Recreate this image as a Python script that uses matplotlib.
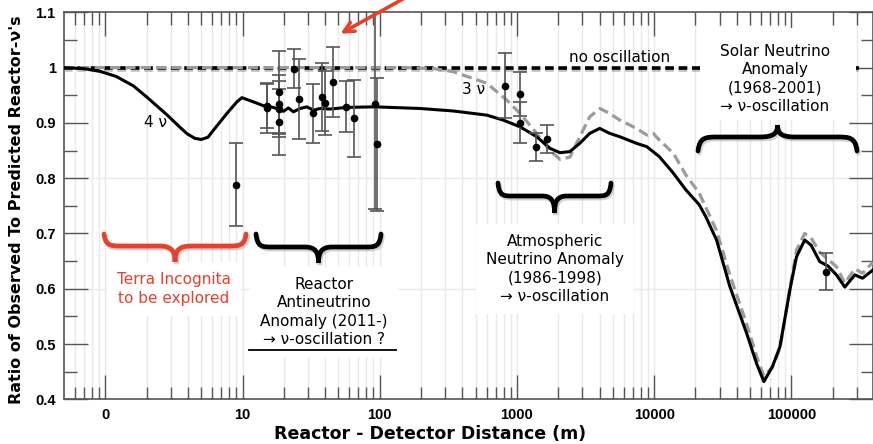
import matplotlib
matplotlib.use('Agg')
import matplotlib.pyplot as plt
from matplotlib.path import Path
from matplotlib.patches import PathPatch, Rectangle
from matplotlib.lines import Line2D
import matplotlib.patheffects as pe
from matplotlib.ticker import FixedLocator, FixedFormatter, NullFormatter, MultipleLocator

# ---------------- data ----------------
curve4_dist = [0.5, 0.7, 0.92, 1.2, 1.6, 2.0, 2.83, 3.5, 3.96, 4.5, 5.0, 5.6, 6.15, 7.69, 9.1, 9.9,
               12.0, 14.2, 16.8, 19.9, 21.6, 23.5, 26.3, 29.4, 32.9, 36.8, 43.5, 57.5, 92.5, 119,
               197, 344, 603, 794, 1050, 1393, 1740, 2060, 2430, 2870, 3390, 4010, 4740, 5610,
               7430, 8830, 10900, 13800, 17000, 21300, 23800, 28500, 35600, 47100, 55700, 63000,
               72700, 82500, 97500, 109000, 125000, 139000, 161000, 185000, 213000, 245000,
               290000, 330000, 393000]
curve4_ratio = [1.000, 0.998, 0.993, 0.984, 0.967, 0.947, 0.914, 0.892, 0.880, 0.872, 0.870, 0.874,
                0.887, 0.917, 0.938, 0.9456, 0.938, 0.931, 0.928, 0.921, 0.927, 0.920, 0.926, 0.929,
                0.923, 0.926, 0.925, 0.928, 0.929, 0.928, 0.926, 0.9215, 0.914, 0.905, 0.893, 0.875,
                0.854, 0.846, 0.848, 0.863, 0.881, 0.890, 0.881, 0.875, 0.863, 0.857, 0.839, 0.809,
                0.779, 0.752, 0.730, 0.688, 0.604, 0.520, 0.465, 0.432, 0.459, 0.495, 0.598, 0.658,
                0.688, 0.679, 0.649, 0.641, 0.625, 0.603, 0.625, 0.619, 0.634]

curve3_dist = [0.5, 150, 250, 344, 603, 841, 1050, 1393, 1740, 2060, 2430, 2720, 3390, 4030, 4740,
               5610, 6300, 7430, 8830, 9840, 10900, 13800, 17000, 21300, 28500, 35600, 47100,
               55700, 63000, 72700, 82500, 97500, 109000, 125000, 139000, 161000, 185000, 213000,
               245000, 290000, 330000, 393000]
curve3_ratio = [1.000, 1.000, 0.998, 0.9926, 0.9716, 0.9414, 0.9174, 0.881, 0.850, 0.834, 0.838,
                0.863, 0.911, 0.926, 0.917, 0.905, 0.899, 0.890, 0.878, 0.881, 0.869, 0.845, 0.806,
                0.773, 0.705, 0.625, 0.537, 0.478, 0.442, 0.458, 0.492, 0.600, 0.670, 0.700, 0.692,
                0.666, 0.653, 0.640, 0.610, 0.636, 0.628, 0.648]

exp_dist = [9.0, 15.0, 15.2, 18.3, 18.3, 18.3, 18.3, 23.9, 25.6, 32.9, 37.9, 40.0, 45.3, 56.9,
            65.0, 92.6, 95.3, 819, 1054, 1054, 1377, 1665, 180000]
exp_ratio = [0.788, 0.927, 0.930, 0.955, 0.934, 0.925, 0.901, 0.998, 0.943, 0.917, 0.947, 0.936,
             0.974, 0.929, 0.908, 0.934, 0.861, 0.967, 0.952, 0.900, 0.856, 0.871, 0.631]
exp_err = [0.075, 0.046, 0.040, 0.075, 0.053, 0.050, 0.060, 0.035, 0.072, 0.053, 0.062, 0.058,
           0.063, 0.046, 0.069, 0.190, 0.121, 0.059, 0.040, 0.037, 0.025, 0.026, 0.033]

no_osc_dist = [0.5, 3.1e5]
no_osc_ratio = [1.0, 1.0]

x_tick_values = [1, 10, 100, 1000, 10000, 100000]
x_tick_labels = ['0', '10', '100', '1000', '10000', '100000']
y_tick_values = [0.4, 0.5, 0.6, 0.7, 0.8, 0.9, 1.0, 1.1]
y_tick_labels = ['0.4', '0.5', '0.6', '0.7', '0.8', '0.9', '1', '1.1']
y_grid_values = [0.6, 0.8, 1.0]

# ---------------- figure ----------------
W, H = 873, 444
fig = plt.figure(figsize=(W / 100, H / 100), dpi=100)
ax = fig.add_axes([64 / W, (H - 399.3) / H, (872.5 - 64) / W, (399.3 - 12.3) / H])
ax.set_xscale('log')
ax.set_xlim(0.5, 3.9e5)
ax.set_ylim(0.4, 1.1)

def fxy(px, py):
    return px / W, 1 - py / H

# grid
minor_x = []
for dec in [0.1, 1, 10, 100, 1000, 10000, 100000]:
    for m in range(2, 10):
        v = m * dec
        if 0.5 < v < 3.9e5:
            minor_x.append(v)
for v in minor_x + x_tick_values:
    ax.axvline(v, color='#e9e9e9', lw=1.0, zorder=0)
for v in y_grid_values:
    ax.axhline(v, color='#e9e9e9', lw=1.0, zorder=0)

# ticks
ax.xaxis.set_major_locator(FixedLocator(x_tick_values))
ax.xaxis.set_major_formatter(FixedFormatter(x_tick_labels))
ax.xaxis.set_minor_locator(FixedLocator(minor_x))
ax.xaxis.set_minor_formatter(NullFormatter())
ax.yaxis.set_major_locator(FixedLocator(y_tick_values))
ax.yaxis.set_major_formatter(FixedFormatter(y_tick_labels))
ax.yaxis.set_minor_locator(MultipleLocator(0.05))
ax.tick_params(which='major', direction='in', length=17.5, width=1.0, color='#555555',
               top=True, right=True, labelsize=10.5, pad=6)
ax.tick_params(which='minor', direction='in', length=9, width=1.0, color='#555555',
               top=True, right=True)
for lab in ax.get_xticklabels():
    lab.set_fontfamily(['Liberation Sans Narrow', 'Liberation Sans', 'DejaVu Sans'])
    lab.set_fontweight('bold')
for lab in ax.get_yticklabels():
    lab.set_fontfamily(['Liberation Sans', 'DejaVu Sans'])
    lab.set_fontweight('bold')
for s in ax.spines.values():
    s.set_color('#555555')
    s.set_linewidth(1.2)

# curves
ax.plot(no_osc_dist, no_osc_ratio, color='black', lw=2.6, dashes=(2.4, 1.3), zorder=3,
        path_effects=[pe.SimpleLineShadow(offset=(0, -1.5), shadow_color='gray', alpha=0.5), pe.Normal()])
ax.plot(curve3_dist, curve3_ratio, color='#9b9b9b', lw=2.3, dashes=(3.2, 1.6), zorder=3)
ax.plot(curve4_dist, curve4_ratio, color='black', lw=2.2, zorder=4)
ax.errorbar(exp_dist, exp_ratio, yerr=exp_err, fmt='o', color='black', ms=4.5,
            ecolor='#555555', elinewidth=1.2, capsize=5, capthick=1.2, zorder=5)

# curve labels
ax.text(2.31, 0.900, '4 ν', fontsize=11, ha='center', va='center', zorder=6)
ax.text(479, 0.9595, '3 ν', fontsize=11, ha='center', va='center', zorder=6)
ax.text(5620, 1.0188, 'no oscillation', fontsize=11, ha='center', va='center', zorder=6)

# white backing for the solar text
ax.add_patch(Rectangle(fxy(700, 120), 156 / W, 92 / H, transform=fig.transFigure,
                       facecolor='white', edgecolor='none', zorder=6.5, clip_on=False))

# annotation texts
txt_kw = dict(ha='center', va='center', multialignment='center', fontsize=11,
              linespacing=1.3, transform=fig.transFigure, clip_on=False, zorder=7)
ax.text(*fxy(775, 79), 'Solar Neutrino\nAnomaly\n(1968-2001)\n→ ν-oscillation', **txt_kw)
ax.text(*fxy(174, 289), 'Terra Incognita\nto be explored', color='#e8402a',
        bbox=dict(facecolor='white', edgecolor='none', pad=7), **txt_kw)
ax.text(*fxy(324, 312), 'Reactor\nAntineutrino\nAnomaly (2011-)\n→ ν-oscillation ?',
        bbox=dict(facecolor='white', edgecolor='none', pad=7), **txt_kw)
ax.text(*fxy(555, 269), 'Atmospheric\nNeutrino Anomaly\n(1986-1998)\n→ ν-oscillation',
        bbox=dict(facecolor='white', edgecolor='none', pad=7), **txt_kw)
ax.add_line(Line2D([249 / W, 396 / W], [1 - 350 / H, 1 - 350 / H], color='black', lw=1.3,
                   transform=fig.transFigure, zorder=8, clip_on=False))

# braces
def brace(x0, x1, ye, yf, yt, color):
    xc = (x0 + x1) / 2
    L = xc - x0
    pts = [(x0, ye), (x0 + 0.02 * L, yf), (x0 + 0.1 * L, yf), (x0 + 0.25 * L, yf),
           (xc - 0.22 * L, yf),
           (xc - 0.04 * L, yf), (xc, yf + 0.35 * (yt - yf)), (xc, yt),
           (xc, yf + 0.35 * (yt - yf)), (xc + 0.04 * L, yf), (xc + 0.22 * L, yf),
           (x1 - 0.25 * L, yf),
           (x1 - 0.1 * L, yf), (x1 - 0.02 * L, yf), (x1, ye)]
    codes = [Path.MOVETO] + [Path.CURVE4] * 3 + [Path.LINETO] + [Path.CURVE4] * 6 + \
            [Path.LINETO] + [Path.CURVE4] * 3
    verts = [fxy(px, py) for px, py in pts]
    patch = PathPatch(Path(verts, codes), facecolor='none', edgecolor=color, lw=3.4,
                      transform=fig.transFigure, zorder=8, clip_on=False, capstyle='round',
                      path_effects=[pe.SimpleLineShadow(offset=(1, -1.5), shadow_color='gray',
                                                        alpha=0.35), pe.Normal()])
    ax.add_patch(patch)

brace(104, 246, 234, 246, 262, '#e8402a')
brace(256, 381, 234, 247, 263, 'black')
brace(498, 611, 183, 196, 213, 'black')
brace(698, 857, 151, 137, 125, 'black')

# red arrow
ax.annotate('', xy=fxy(338, 35), xytext=fxy(412, -6), xycoords='figure fraction',
            textcoords='figure fraction',
            arrowprops=dict(arrowstyle='->', color='#e8402a', lw=2.6, mutation_scale=18),
            annotation_clip=False, zorder=9)

# axis labels
fig.text(*fxy(430, 434), 'Reactor - Detector Distance (m)', ha='center', va='center',
         fontsize=12.5, fontweight='bold')
fig.text(*fxy(17, 210), "Ratio of Observed To Predicted Reactor-ν's", ha='center', va='center',
         rotation=90, fontsize=11.5, fontweight='bold')

fig.savefig('out.png', dpi=100)
